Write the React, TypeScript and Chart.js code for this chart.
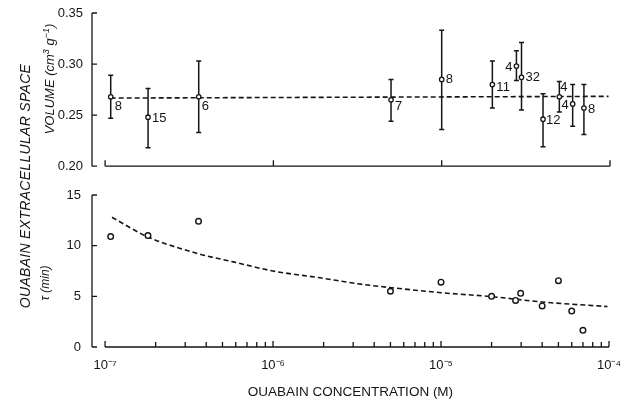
import React, { useEffect, useRef } from 'react';
import { Chart, registerables } from 'chart.js';

Chart.register(...registerables);

// ---------- data ----------
const concentration = [1.08e-7, 1.8e-7, 3.6e-7, 5.0e-6, 1.0e-5, 2.0e-5, 2.78e-5, 2.98e-5, 4.0e-5, 5.0e-5, 6.0e-5, 7.0e-5];
const volume = [0.268, 0.248, 0.268, 0.265, 0.285, 0.280, 0.298, 0.287, 0.246, 0.268, 0.261, 0.257];
const volumeLow = [0.247, 0.218, 0.233, 0.244, 0.236, 0.257, 0.284, 0.255, 0.219, 0.253, 0.239, 0.231];
const volumeHigh = [0.289, 0.276, 0.303, 0.285, 0.333, 0.303, 0.313, 0.321, 0.271, 0.283, 0.280, 0.280];
const nLabels = ['8', '15', '6', '7', '8', '11', '4', '32', '12', '4', '4', '8'];
const volumeFitX = [1.08e-7, 9.8e-5];
const volumeFitY = [0.2667, 0.2684];
const tau = [10.9, 11.0, 12.4, 5.5, 6.4, 5.0, 4.6, 5.3, 4.05, 6.55, 3.55, 1.65];
const tauFitX = [1.1e-7, 1.78e-7, 3.6e-7, 5.8e-7, 1e-6, 1.9e-6, 3.2e-6, 5.1e-6, 1e-5, 2e-5, 4e-5, 9.8e-5];
const tauFitY = [12.8, 10.9, 9.2, 8.4, 7.5, 6.83, 6.24, 5.85, 5.36, 4.97, 4.44, 3.99];
const volumeTicks = [0.2, 0.25, 0.3, 0.35];
const tauTicks = [0, 5, 10, 15];
const xTitle = 'OUABAIN CONCENTRATION (M)';

// ---------- styles ----------
const INK = '#151515';
const FONT = '"Liberation Sans", Arial, Helvetica, sans-serif';
const X_MIN = 8.36e-8;
const X_MAX = 1e-4;
// label placement relative to its point: [dx, dy, align]
const labelPlacement: [number, number, CanvasTextAlign][] = [
  [4, 10, 'left'], [4, 1, 'left'], [3, 10, 'left'], [4, 7, 'left'], [4, 0, 'left'], [4, 3, 'left'],
  [-4, 1, 'right'], [4, 0, 'left'], [3, 1, 'left'], [1, -9, 'left'], [-4, 2, 'right'], [4, 1, 'left'],
];

const SUP: Record<string, string> = {
  '-': '\u207B', '0': '\u2070', '1': '\u00B9', '2': '\u00B2', '3': '\u00B3', '4': '\u2074',
  '5': '\u2075', '6': '\u2076', '7': '\u2077', '8': '\u2078', '9': '\u2079',
};
const decadeLabel = (v: number) => {
  const e = Math.log10(v);
  const r = Math.round(e);
  if (Math.abs(e - r) > 1e-6) return '';
  return '10' + String(r).split('').map((c) => SUP[c]).join('');
};

function drawAxes(chart: any, panel: 'top' | 'bottom') {
  const ctx = chart.ctx as CanvasRenderingContext2D;
  const { top, bottom } = chart.chartArea;
  const xs = chart.scales.x;
  const ys = chart.scales.y;
  const left = ys.right;
  const x0 = xs.getPixelForValue(1e-7);
  const x1 = xs.getPixelForValue(1e-4);
  ctx.save();
  ctx.strokeStyle = INK;
  ctx.lineWidth = 1.3;
  ctx.beginPath();
  ctx.moveTo(left, top);
  ctx.lineTo(left, bottom);
  const yt = panel === 'top' ? volumeTicks : tauTicks;
  yt.forEach((v) => {
    const py = ys.getPixelForValue(v);
    ctx.moveTo(left, py);
    ctx.lineTo(left + 5, py);
  });
  ctx.moveTo(x0, bottom);
  ctx.lineTo(x1, bottom);
  for (let k = -7; k <= -4; k++) {
    for (let m = 1; m <= 9; m++) {
      const v = m * Math.pow(10, k);
      if (v > X_MAX * 1.0001) break;
      if (panel === 'top' && m !== 1) continue;
      const px = xs.getPixelForValue(v);
      ctx.moveTo(px, bottom);
      ctx.lineTo(px, bottom - (m === 1 ? 6 : 5));
    }
  }
  ctx.stroke();
  ctx.restore();
}

const topPlugin = {
  id: 'volumeExtras',
  beforeDatasetsDraw(chart: any) {
    const ctx = chart.ctx as CanvasRenderingContext2D;
    const xs = chart.scales.x;
    const ys = chart.scales.y;
    ctx.save();
    ctx.strokeStyle = INK;
    ctx.lineWidth = 1.5;
    ctx.beginPath();
    concentration.forEach((c, i) => {
      const px = xs.getPixelForValue(c);
      const hi = ys.getPixelForValue(volumeHigh[i]);
      const lo = ys.getPixelForValue(volumeLow[i]);
      ctx.moveTo(px, hi);
      ctx.lineTo(px, lo);
      ctx.moveTo(px - 2.5, hi);
      ctx.lineTo(px + 2.5, hi);
      ctx.moveTo(px - 2.5, lo);
      ctx.lineTo(px + 2.5, lo);
    });
    ctx.stroke();
    ctx.restore();
  },
  afterDatasetsDraw(chart: any) {
    drawAxes(chart, 'top');
    const ctx = chart.ctx as CanvasRenderingContext2D;
    const xs = chart.scales.x;
    const ys = chart.scales.y;
    ctx.save();
    ctx.fillStyle = INK;
    ctx.font = `13px ${FONT}`;
    ctx.textBaseline = 'middle';
    concentration.forEach((c, i) => {
      const [dx, dy, align] = labelPlacement[i];
      ctx.textAlign = align;
      ctx.fillText(nLabels[i], xs.getPixelForValue(c) + dx, ys.getPixelForValue(volume[i]) + dy);
    });
    ctx.restore();
  },
};

const bottomPlugin = {
  id: 'tauExtras',
  afterDatasetsDraw(chart: any) {
    drawAxes(chart, 'bottom');
  },
};

const tickFont = { family: FONT, size: 13 };

export default function App() {
  const topRef = useRef<HTMLCanvasElement>(null);
  const botRef = useRef<HTMLCanvasElement>(null);

  useEffect(() => {
    const top = new Chart(topRef.current!, {
      type: 'scatter',
      data: {
        datasets: [
          {
            data: concentration.map((x, i) => ({ x, y: volume[i] })),
            pointRadius: 2.2,
            pointBackgroundColor: '#fff',
            pointBorderColor: INK,
            pointBorderWidth: 1.3,
            showLine: false,
          },
          {
            data: volumeFitX.map((x, i) => ({ x, y: volumeFitY[i] })),
            showLine: true,
            borderColor: INK,
            borderWidth: 1.6,
            borderDash: [5, 3],
            pointRadius: 0,
          },
        ],
      },
      options: {
        animation: false,
        responsive: true,
        maintainAspectRatio: false,
        layout: { padding: { left: 0, right: 14, top: 13, bottom: 1 } },
        plugins: { legend: { display: false }, tooltip: { enabled: false } },
        scales: {
          x: { type: 'logarithmic', min: X_MIN, max: X_MAX, display: false },
          y: {
            min: 0.2,
            max: 0.35,
            afterFit: (s: any) => { s.width = 92; },
            afterBuildTicks: (s: any) => { s.ticks = volumeTicks.map((v) => ({ value: v })); },
            ticks: { callback: (v: any) => Number(v).toFixed(2), padding: 1, color: INK, font: tickFont },
            grid: { display: false },
            border: { display: false },
          },
        },
      },
      plugins: [topPlugin],
    } as any);

    const bot = new Chart(botRef.current!, {
      type: 'scatter',
      data: {
        datasets: [
          {
            data: concentration.map((x, i) => ({ x, y: tau[i] })),
            pointRadius: 2.8,
            pointBackgroundColor: '#fff',
            pointBorderColor: INK,
            pointBorderWidth: 1.4,
            showLine: false,
          },
          {
            data: tauFitX.map((x, i) => ({ x, y: tauFitY[i] })),
            showLine: true,
            borderColor: INK,
            borderWidth: 1.6,
            borderDash: [5, 3],
            pointRadius: 0,
            cubicInterpolationMode: 'monotone',
          },
        ],
      },
      options: {
        animation: false,
        responsive: true,
        maintainAspectRatio: false,
        layout: { padding: { left: 0, right: 14, top: 20, bottom: 0 } },
        plugins: { legend: { display: false }, tooltip: { enabled: false } },
        scales: {
          x: {
            type: 'logarithmic',
            min: X_MIN,
            max: X_MAX,
            afterFit: (s: any) => { s.height = 53; },
            ticks: {
              callback: (v: any) => decadeLabel(Number(v)),
              autoSkip: false,
              maxRotation: 0,
              padding: 3,
              color: INK,
              font: tickFont,
            },
            grid: { display: false },
            border: { display: false },
            title: {
              display: true,
              text: xTitle,
              color: INK,
              font: { family: FONT, size: 13.5 },
              padding: { top: 0, bottom: 0 },
            },
          },
          y: {
            min: 0,
            max: 15,
            afterFit: (s: any) => { s.width = 92; },
            afterBuildTicks: (s: any) => { s.ticks = tauTicks.map((v) => ({ value: v })); },
            ticks: { padding: 3, color: INK, font: tickFont },
            grid: { display: false },
            border: { display: false },
          },
        },
      },
      plugins: [bottomPlugin],
    } as any);

    return () => {
      top.destroy();
      bot.destroy();
    };
  }, []);

  const rot = (cx: number, cy: number, size: number): React.CSSProperties => ({
    position: 'absolute',
    left: cx,
    top: cy,
    transform: 'translate(-50%, -50%) rotate(-90deg)',
    whiteSpace: 'nowrap',
    fontStyle: 'italic',
    fontSize: size,
    fontFamily: FONT,
    color: INK,
    lineHeight: 1,
  });

  return (
    <div style={{ position: 'absolute', left: 0, top: 0, width: 624, height: 400, background: '#fff' }}>
      <div style={{ position: 'absolute', left: 0, top: 0, width: 624, height: 175 }}>
        <canvas ref={topRef} />
      </div>
      <div style={{ position: 'absolute', left: 0, top: 175, width: 624, height: 225 }}>
        <canvas ref={botRef} />
      </div>
      <div style={{ ...rot(25, 186, 14), letterSpacing: 0.3 }}>OUABAIN EXTRACELLULAR SPACE</div>
      <div style={rot(49, 79, 13)}>
        VOLUME (cm<sup style={{ fontSize: 9 }}>3</sup> g<sup style={{ fontSize: 9 }}>{'\u2212'}1</sup>)
      </div>
      <div style={rot(45, 283, 12)}>{'\u03C4'} (min)</div>
    </div>
  );
}
